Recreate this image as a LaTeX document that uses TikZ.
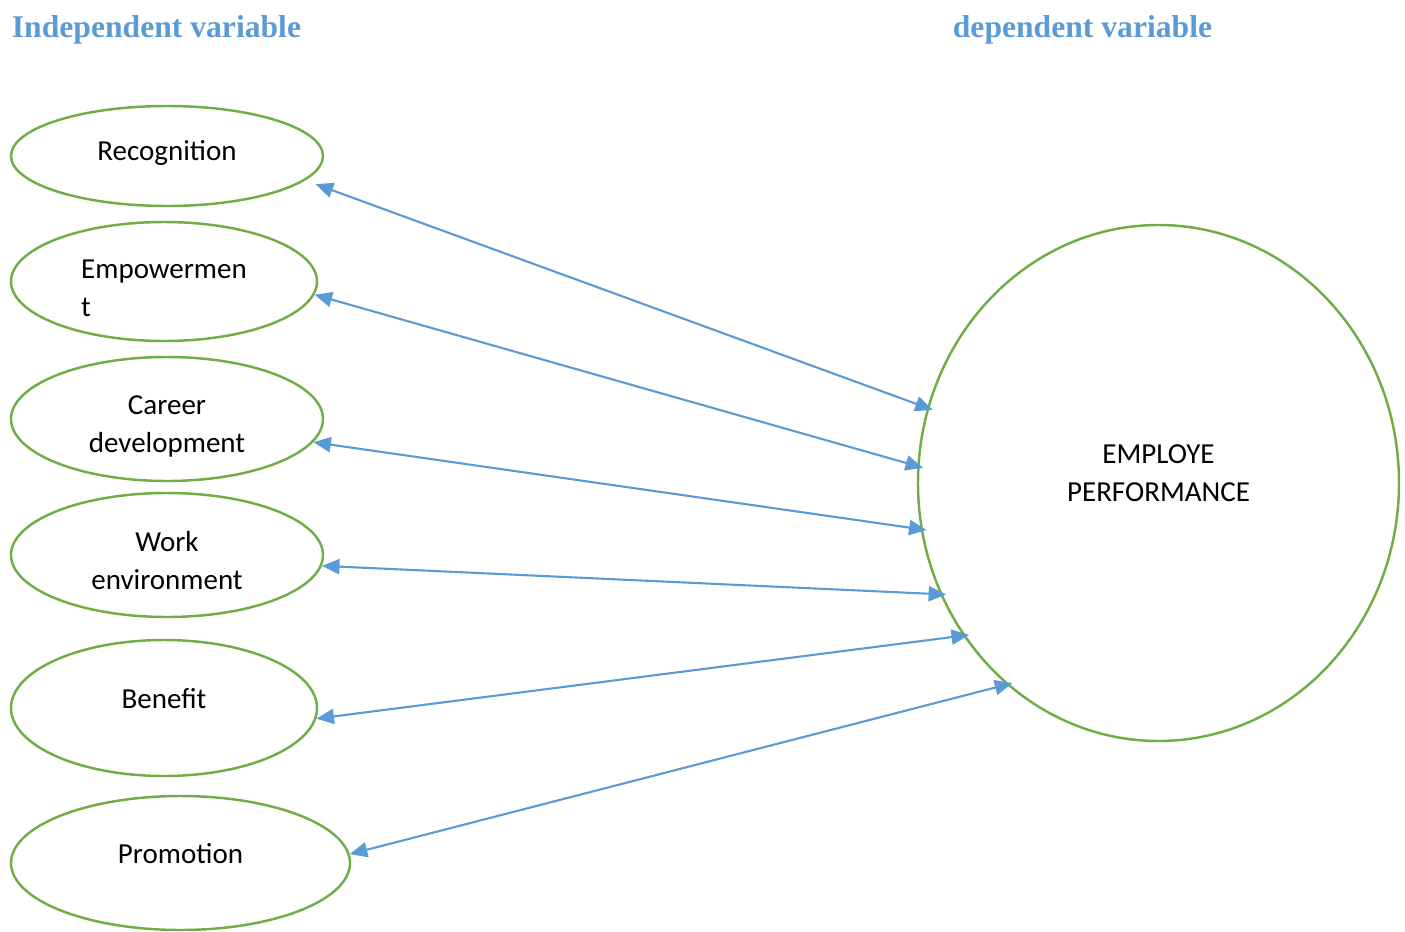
\documentclass[tikz,border=0pt]{standalone}
\usepackage{fontspec}
\setmainfont{Carlito}
\newfontfamily\headfont{Liberation Serif}
\usetikzlibrary{shapes.geometric,arrows.meta}
\definecolor{leafgreen}{RGB}{112,173,71}
\definecolor{skyblue}{RGB}{91,155,213}
\newcommand{\toppad}[1]{\rule{0pt}{#1}}
\begin{document}
\begin{tikzpicture}[arrow/.style={line width=0.6pt,color=skyblue,shorten >=-0.6mm,{Triangle[length=5pt,width=4.3pt]}-{Triangle[length=5pt,width=4.3pt]}},
  var node/.style={ellipse,draw=leafgreen,line width=0.7pt,inner sep=0pt,align=center,font=\fontsize{8.25}{10.8}\selectfont},
  head/.style={text=skyblue,font=\headfont\bfseries\fontsize{9}{11}\selectfont}]
  \useasboundingbox (0,0) rectangle (14.05,9.31);

  \node[head] (indep) at (1.565,9.01) {Independent variable};
  \node[head] (dep) at (10.825,9.01) {dependent variable};

  \node[var node,minimum width=3.12cm,minimum height=1.00cm,text depth=0.11cm] (rec) at (1.67,7.75) {Recognition};
  \node[var node,minimum width=3.06cm,minimum height=1.19cm,align=left] (emp) at (1.64,6.495) {\toppad{0.32cm}Empowermen\\t};
  \node[var node,minimum width=3.12cm,minimum height=1.24cm] (car) at (1.67,5.12) {\toppad{0.33cm}Career\\development};
  \node[var node,minimum width=3.12cm,minimum height=1.24cm] (work) at (1.67,3.76) {\toppad{0.31cm}Work\\environment};
  \node[var node,minimum width=3.06cm,minimum height=1.36cm,text depth=0.2cm] (ben) at (1.64,2.23) {Benefit};
  \node[var node,minimum width=3.39cm,minimum height=1.34cm,text depth=0.2cm] (prom) at (1.805,0.68) {Promotion};
  \node[var node,minimum width=4.81cm,minimum height=5.16cm,text depth=0.2cm] (perf) at (11.585,4.48) {EMPLOYE\\PERFORMANCE};

  \path
    (rec.-10.5) edge[arrow,shorten <=1.1mm] (perf.162.1)
    (emp.-5.9) edge[arrow] (perf.176.9)
    (car.-9) edge[arrow] (perf.-169.8)
    (work.-4.4) edge[arrow] (perf.-153.8)
    (ben.-4.6) edge[arrow] (perf.-142)
    (prom.3.7) edge[arrow] (perf.-127.4);
\end{tikzpicture}
\end{document}
